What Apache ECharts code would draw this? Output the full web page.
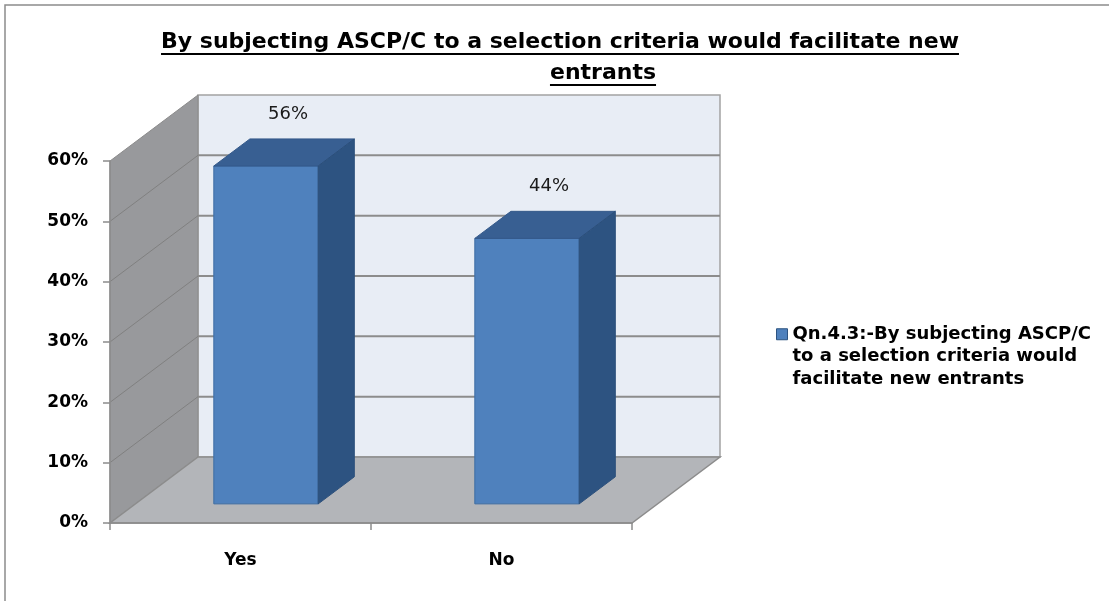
<!DOCTYPE html>
<html>
<head>
<meta charset="utf-8">
<script src="https://cdn.jsdelivr.net/npm/echarts@6/dist/echarts.min.js"></script>
<style>
html, body { margin: 0; padding: 0; background: #fff; }
#chart { width: 1109px; height: 601px; }
</style>
</head>
<body>
<div id="chart"></div>
<script>
// 数据
var categories = ['Yes', 'No'];
var values = [56, 44];
var yTicks = [0, 10, 20, 30, 40, 50, 60];
var seriesName = 'Qn.4.3:-By subjecting ASCP/C to a selection criteria would facilitate new entrants';
var legendLines = ['Qn.4.3:-By subjecting ASCP/C', 'to a selection criteria would', 'facilitate new entrants'];
var titleLines = ['By subjecting ASCP/C to a selection criteria would facilitate new', 'entrants'];

// 3D 透视偏移
var DX = 88, DY = -66;
var F0 = 0.29, F1 = 0.70;
var FONT = '"DejaVu Sans", sans-serif';

// 量一下标题宽度，用来画下划线
var ctx = document.createElement('canvas').getContext('2d');
ctx.font = 'bold 22px "DejaVu Sans"';
var tw1 = ctx.measureText(titleLines[0]).width;
var tw2 = ctx.measureText(titleLines[1]).width;
var tx1 = 560 - tw1 / 2, tx2 = 603 - tw2 / 2;

function renderBackdrop(params, api) {
  var band = api.size([1, 0])[0];
  var x0 = api.coord([0, 0])[0] - band / 2;
  var x1 = x0 + band * categories.length;
  var yOf = function (v) { return api.coord([0, v])[1]; };
  var y0 = yOf(0), yTop = yOf(yTicks[yTicks.length - 1]);
  var kids = [];
  // 后墙
  kids.push({ type: 'polygon', shape: { points: [[x0 + DX, yTop + DY], [x1 + DX, yTop + DY], [x1 + DX, y0 + DY], [x0 + DX, y0 + DY]] },
    style: { fill: '#E8EDF5', stroke: '#A3A3A3', lineWidth: 1.5 } });
  // 侧墙
  kids.push({ type: 'polygon', shape: { points: [[x0, y0], [x0, yTop], [x0 + DX, yTop + DY], [x0 + DX, y0 + DY]] },
    style: { fill: '#98999C', stroke: '#8A8A8A', lineWidth: 1 } });
  // 网格线
  for (var i = 1; i < yTicks.length - 1; i++) {
    var y = yOf(yTicks[i]);
    kids.push({ type: 'line', shape: { x1: x0 + DX, y1: y + DY, x2: x1 + DX, y2: y + DY },
      style: { stroke: '#8C8C8C', lineWidth: 2 } });
    kids.push({ type: 'line', shape: { x1: x0, y1: y, x2: x0 + DX, y2: y + DY },
      style: { stroke: '#808080', lineWidth: 1 } });
  }
  // 地板
  kids.push({ type: 'polygon', shape: { points: [[x0, y0], [x1, y0], [x1 + DX, y0 + DY], [x0 + DX, y0 + DY]] },
    style: { fill: '#B3B5B9', stroke: '#8C8C8C', lineWidth: 1.5 } });
  return { type: 'group', children: kids };
}

function renderBar(params, api) {
  var idx = api.value(0), v = api.value(1);
  var band = api.size([1, 0])[0];
  var w = band * 0.4;
  var c = api.coord([idx, v]);
  var base = api.coord([idx, 0]);
  var xl = c[0] - w / 2 + F0 * DX, xr = xl + w;
  var yt = c[1] + F0 * DY, yb = base[1] + F0 * DY;
  var ddx = (F1 - F0) * DX, ddy = (F1 - F0) * DY;
  return {
    type: 'group',
    children: [
      { type: 'rect', shape: { x: xl, y: yt, width: w, height: yb - yt },
        style: { fill: '#4F81BD', stroke: '#3D6CA3', lineWidth: 1 } },
      { type: 'polygon', shape: { points: [[xl, yt], [xr, yt], [xr + ddx, yt + ddy], [xl + ddx, yt + ddy]] },
        style: { fill: '#385F92', stroke: '#34598A', lineWidth: 1 } },
      { type: 'polygon', shape: { points: [[xr, yt], [xr + ddx, yt + ddy], [xr + ddx, yb + ddy], [xr, yb]] },
        style: { fill: '#2D5381', stroke: '#2B4F7B', lineWidth: 1 } },
      { type: 'text', x: xl + w / 2 + ddx / 2 + 4, y: yt + ddy - 25,
        style: { text: v + '%', fontSize: 18, fontFamily: FONT, fill: '#1a1a1a', align: 'center', verticalAlign: 'middle' } }
    ]
  };
}

var chart = echarts.init(document.getElementById('chart'));
chart.setOption({
  animation: false,
  title: [
    { text: titleLines[0], left: tx1, top: 31, padding: 0,
      textStyle: { fontSize: 22, fontWeight: 'bold', fontFamily: FONT, color: '#000' } },
    { text: titleLines[1], left: tx2, top: 62, padding: 0,
      textStyle: { fontSize: 22, fontWeight: 'bold', fontFamily: FONT, color: '#000' } }
  ],
  graphic: [
    { type: 'rect', shape: { x: 5, y: 5, width: 1200, height: 700 }, style: { fill: 'none', stroke: '#8C8C8C', lineWidth: 1.5 }, z: -1 },
    { type: 'line', shape: { x1: tx1, y1: 54, x2: tx1 + tw1, y2: 54 }, style: { stroke: '#000', lineWidth: 2 } },
    { type: 'line', shape: { x1: tx2, y1: 85, x2: tx2 + tw2, y2: 85 }, style: { stroke: '#000', lineWidth: 2 } }
  ],
  legend: {
    data: [seriesName],
    left: 776, top: 278, padding: 0,
    orient: 'vertical',
    icon: 'rect', itemWidth: 11, itemHeight: 11,
    itemStyle: { borderColor: '#2D5381', borderWidth: 1 },
    // 前面加两个空行，让图标对齐第一行
    formatter: function () { return '\n\n' + legendLines.join('\n'); },
    textStyle: { fontSize: 18, fontWeight: 'bold', fontFamily: FONT, color: '#000', lineHeight: 22.5 }
  },
  grid: { left: 110, top: 161, width: 522, height: 362 },
  xAxis: {
    type: 'category', data: categories, z: 5,
    axisLine: { show: true, lineStyle: { color: '#8C8C8C', width: 1.5 } },
    axisTick: { show: true, length: 7, lineStyle: { color: '#8C8C8C', width: 1.5 } },
    axisLabel: { fontSize: 17, fontWeight: 'bold', fontFamily: FONT, color: '#000', margin: 29 }
  },
  yAxis: {
    type: 'value', min: 0, max: 60, interval: 10, z: 5,
    axisLine: { show: true, lineStyle: { color: '#8C8C8C', width: 1.5 } },
    axisTick: { show: true, length: 7, lineStyle: { color: '#8C8C8C', width: 1.5 } },
    splitLine: { show: false },
    axisLabel: { fontSize: 17, fontWeight: 'bold', fontFamily: FONT, color: '#000', margin: 22, formatter: '{value}%' }
  },
  series: [
    { type: 'custom', name: 'backdrop', z: 1, silent: true, renderItem: renderBackdrop, data: [[0, 0]] },
    { type: 'custom', name: seriesName, z: 2, itemStyle: { color: '#4F81BD' }, renderItem: renderBar,
      encode: { x: 0, y: 1 },
      data: values.map(function (v, i) { return [i, v]; }) }
  ]
});
</script>
</body>
</html>
